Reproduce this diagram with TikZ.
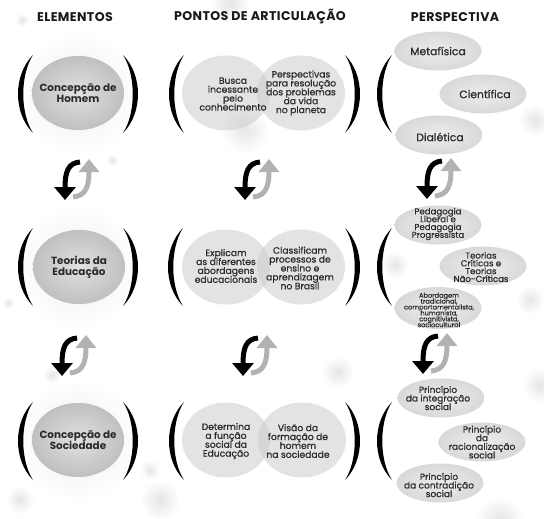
\documentclass[tikz,border=0pt]{standalone}
\usepackage{fontspec}
\setmainfont{Poppins}
\newfontfamily\semib{Poppins}[FakeBold=0.7]
\usetikzlibrary{arrows.meta,shapes.geometric}
\definecolor{txt}{HTML}{2A2A2A}
\newcommand\tightlines{\lineskiplimit=-20pt\lineskip=0pt}
\begin{document}
\begin{tikzpicture}[x=1pt,y=-1pt,
  hdr/.style={font=\fontsize{12.6}{14}\selectfont\bfseries\addfontfeature{LetterSpace=3}, text=black!90},
  elem/.style={ellipse, minimum width=93pt, minimum height=75pt, shading=radial, inner color=gray!24, outer color=gray!50, draw=white, line width=0.6pt},
  elemtxt/.style={align=center, font=\fontsize{10.4}{11.2}\selectfont\bfseries\tightlines, text=txt},
  artic/.style={ellipse, minimum width=88pt, minimum height=75pt, fill=gray!40, fill opacity=0.55},
  artxt/.style={align=center, font=\semib\fontsize{9.2}{8.9}\selectfont\tightlines, text=txt},
  persp/.style={ellipse, minimum width=87pt, minimum height=39pt, shading=radial, inner color=gray!14, outer color=gray!30},
  bigtxt/.style={align=center, font=\semib\fontsize{10.8}{11}\selectfont, text=txt},
  pertxt/.style={align=center, font=\semib\fontsize{8.6}{7.8}\selectfont\tightlines, text=txt},
  printxt/.style={align=center, font=\semib\fontsize{9}{8.6}\selectfont\tightlines, text=txt},
  tinytxt/.style={align=center, font=\semib\fontsize{6.6}{5.9}\selectfont\tightlines, text=txt},
  blob/.style={inner color=gray!20, outer color=white},
  lbr/.pic={\fill[black] (0,0) .. controls (-20,20) and (-20,58) .. (0,78) .. controls (-13,58) and (-13,20) .. (0,0) -- cycle;},
  rbr/.pic={\fill[black] (0,0) .. controls (20,20) and (20,58) .. (0,78) .. controls (13,58) and (13,20) .. (0,0) -- cycle;},
  cyc/.pic={
    \draw[line width=5pt, gray!60, -{Triangle[width=20pt,length=13pt]}] (-3,17) .. controls (10,16) and (13,6) .. (13,-21);
    \draw[line width=5pt, black, -{Triangle[width=21pt,length=13pt]}] (4,-18) .. controls (-8,-17) and (-11,-8) .. (-11,20);
  }
]
\useasboundingbox (0,0) rectangle (544,519);
\fill[white] (0,0) rectangle (544,519);

% faint background blobs
\shade[blob] (22,20) circle (7);
\shade[blob] (230,4) circle (20);
\shade[blob] (245,130) circle (24);
\shade[blob] (70,128) circle (8);
\shade[blob] (112,160) circle (6);
\shade[blob] (535,120) circle (16);
\shade[blob] (530,300) circle (14);
\shade[blob] (8,303) circle (6);
\shade[blob] (52,375) circle (9);
\shade[blob] (338,372) circle (16);
\shade[blob] (540,385) circle (18);
\shade[blob] (95,420) circle (28);
\shade[blob] (160,500) circle (20);
\shade[blob] (20,500) circle (14);
\shade[blob] (500,520) circle (24);
\shade[blob] (150,470) circle (10);
\shade[blob] (395,265) circle (14);

% headers
\node[hdr] (h1) at (75,17) {ELEMENTOS};
\node[hdr] (h2) at (260,17) {PONTOS DE ARTICULAÇÃO};
\node[hdr] (h3) at (455,17) {PERSPECTIVA};

% halos
\foreach \yy in {93,267,440} {\shade[inner color=gray!14, outer color=white] (78,\yy) circle (62);}

% ELEMENTOS
\node[elem] (e1) at (78,93) {};
\node[elemtxt] (e1t) at (e1) {Concepção de\\Homem};
\node[elem] (e2) at (79,267) {};
\node[elemtxt] (e2t) at (e2) {Teorias da\\Educação};
\node[elem] (e3) at (78,440) {};
\node[elemtxt] (e3t) at (e3) {Concepção de\\Sociedade};

% PONTOS DE ARTICULACAO
\node[artic] (a1l) at (226,93) {};
\node[artic] (a1r) at (301,93) {};
\node[artxt] (a1lt) at (233,94) {Busca\\incessante\\pelo\\conhecimento};
\node[artxt] (a1rt) at (301,93) {Perspectivas\\para resolução\\dos problemas\\da vida\\no planeta};
\node[artic] (a2l) at (226,267) {};
\node[artic] (a2r) at (301,267) {};
\node[artxt] (a2lt) at (226,266) {Explicam\\as diferentes\\abordagens\\educacionais};
\node[artxt] (a2rt) at (300,268) {Classificam\\processos de\\ensino e\\aprendizagem\\no Brasil};
\node[artic] (a3l) at (226,440) {};
\node[artic] (a3r) at (302,440) {};
\node[artxt] (a3lt) at (226,441) {Determina\\a função\\social da\\Educação};
\node[artxt] (a3rt) at (298,441) {Visão da\\formação de\\homem\\na sociedade};

% PERSPECTIVA
\node[persp] (p1) at (438,51) {};
\node[bigtxt] (p1t) at (p1) {Metafísica};
\node[persp] (p2) at (483,94) {};
\node[bigtxt] (p2t) at (485,94) {Científica};
\node[persp] (p3) at (439,135) {};
\node[bigtxt] (p3t) at (440,137) {Dialética};

\node[persp] (p4) at (438,225) {};
\node[pertxt] (p4t) at (438,224) {Pedagogia\\Liberal e\\Pedagogia\\Progressista};
\node[persp] (p5) at (483,266) {};
\node[pertxt] (p5t) at (481,267) {Teorias\\Críticas e\\Teorias\\Não-Críticas};
\node[persp, minimum height=42pt] (p6) at (438,308) {};
\node[tinytxt] (p6t) at (439,310) {Abordagem\\tradicional,\\comportamentalista,\\humanista,\\cognitivista,\\sociocultural};

\node[persp] (p7) at (441,398) {};
\node[printxt] (p7t) at (438,398) {Princípio\\da integração\\social};
\node[persp] (p8) at (482,442) {};
\node[printxt] (p8t) at (482,442) {Princípio\\da\\racionalização\\social};
\node[persp] (p9) at (440,483) {};
\node[printxt] (p9t) at (439,485) {Princípio\\da contradição\\social};

% brackets
\pic at (33,55) {lbr};   \pic at (123,55) {rbr};
\pic at (33,228) {lbr};  \pic at (123,228) {rbr};
\pic at (33,402) {lbr};  \pic at (123,402) {rbr};
\pic at (184,55) {lbr};  \pic at (345,55) {rbr};
\pic at (183,228) {lbr}; \pic at (345,228) {rbr};
\pic at (184,402) {lbr}; \pic at (345,402) {rbr};
\pic at (392,55) {lbr};
\pic at (392,228) {lbr};
\pic at (392,402) {lbr};

% cycle arrows
\coordinate (c1) at (76,180);
\coordinate (c2) at (256,180);
\coordinate (c3) at (438,179);
\coordinate (c4) at (73,356);
\coordinate (c5) at (254,356);
\coordinate (c6) at (434,354);
\foreach \c in {c1,c2,c3,c4,c5,c6} {\pic at (\c) {cyc};}
\end{tikzpicture}
\end{document}
